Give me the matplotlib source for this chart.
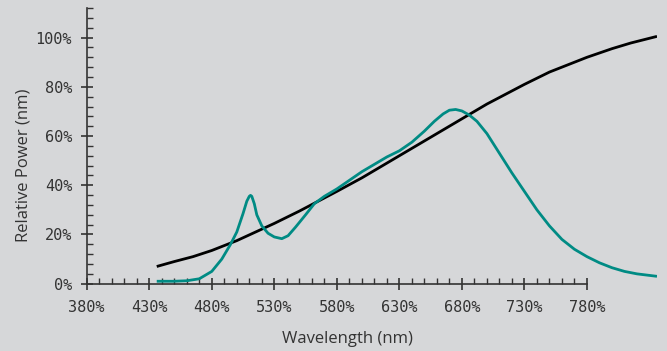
import numpy as np
import matplotlib.pyplot as plt
from matplotlib.ticker import FuncFormatter

# Данные: длина волны (нм) и относительная мощность (%)
black_nm = [436, 450, 465, 480, 500, 515, 530, 550, 565, 580, 600, 615, 630, 650, 665,
            680, 700, 715, 730, 750, 765, 780, 800, 815, 836]
black_pw = [7, 9, 11, 13.5, 17.5, 21, 24.5, 29.5, 33.5, 37.5, 43, 47.5, 52, 58, 62.5,
            67, 73, 77, 81, 86, 89, 92, 95.5, 97.8, 100.5]

teal_nm = [436, 450, 460, 470, 480, 488, 495, 500, 505, 508, 510, 511, 512, 514, 516,
           520, 525, 530, 536, 541, 547, 555, 562, 570, 580, 590, 600, 610, 620, 630,
           640, 650, 658, 665, 670, 675, 680, 686, 692, 700, 710, 720, 730, 740, 750,
           760, 770, 780, 790, 800, 810, 820, 836]
teal_pw = [1, 1, 1.2, 2, 5, 10, 16, 21, 28.5, 33.5, 35.5, 35.9, 35.5, 32.5, 28,
           23.5, 20.5, 19, 18.3, 19.5, 23, 28, 32.5, 35.5, 38.5, 42, 45.5, 48.5, 51.5, 54,
           57.5, 62, 66, 69, 70.5, 70.8, 70.2, 68.5, 66, 61, 53, 45, 37.5, 30, 23.5,
           18, 14, 11, 8.5, 6.5, 5, 4, 3]

bg = '#d6d7d9'
ink = '#333333'

fig = plt.figure(figsize=(6.67, 3.51), dpi=100, facecolor=bg)
ax = fig.add_axes([0.13, 0.1917, 0.855, 0.7853], facecolor=bg)

ax.plot(black_nm, black_pw, color='black', lw=2, solid_capstyle='butt')
ax.plot(teal_nm, teal_pw, color='#008b84', lw=2, solid_capstyle='butt')

ax.set_xlim(380, 836)
ax.set_ylim(0, 112)

for s in ['top', 'right']:
    ax.spines[s].set_visible(False)
ax.spines['bottom'].set_bounds(380, 780)
for s in ['bottom', 'left']:
    ax.spines[s].set_color(ink)
    ax.spines[s].set_linewidth(1.2)

ax.set_xticks(np.arange(380, 781, 50))
ax.set_xticks([t for t in range(380, 781, 10) if (t - 380) % 50 != 0], minor=True)
ax.set_yticks(np.arange(0, 101, 20))
ax.set_yticks([t for t in range(4, 113, 4) if t % 20 != 0], minor=True)

ax.xaxis.set_major_formatter(FuncFormatter(lambda v, p: f'{int(v)}%'))
ax.yaxis.set_major_formatter(FuncFormatter(lambda v, p: f'{int(v)}%'))

ax.tick_params(which='major', direction='inout', length=9, width=1.2, color=ink,
               labelcolor=ink, labelsize=11, pad=7)
ax.tick_params(axis='y', which='major', pad=6)
ax.tick_params(which='minor', direction='in', length=4, width=1, color=ink)
for lab in ax.get_xticklabels() + ax.get_yticklabels():
    lab.set_family('DejaVu Sans Mono')

ax.set_xlabel('Wavelength (nm)', fontsize=12, color=ink, family='Open Sans', labelpad=8)
ax.set_ylabel('Relative Power (nm)', fontsize=12, color=ink, family='Open Sans', labelpad=8)
ax.xaxis.set_label_coords(0.458, -0.17)
ax.yaxis.set_label_coords(-0.097, 0.43)

plt.savefig('out.png', dpi=100, facecolor=bg)
plt.close()
